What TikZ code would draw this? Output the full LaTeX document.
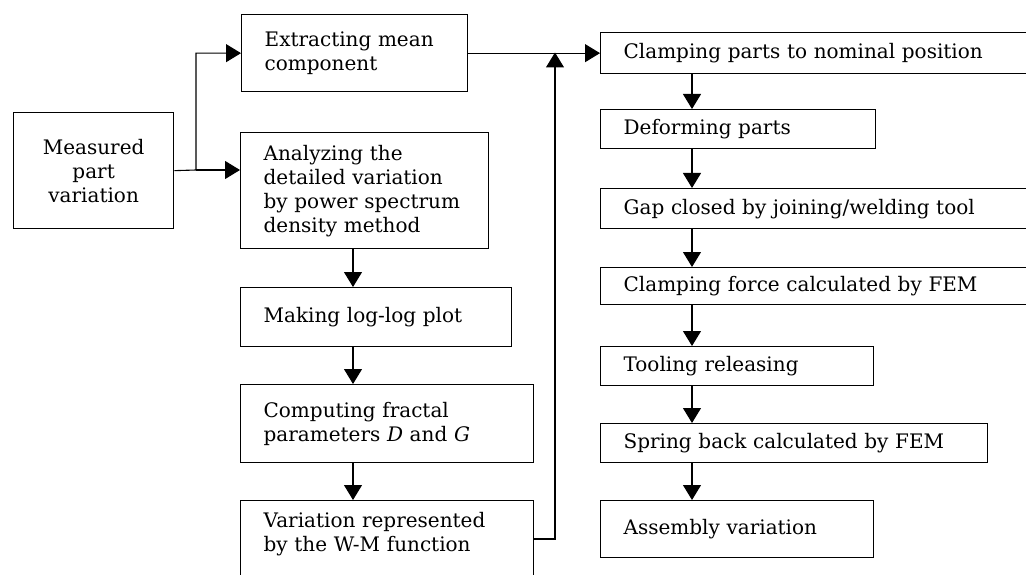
\documentclass[tikz,border=0pt]{standalone}
\usepackage{fontspec}
\setmainfont{DejaVu Serif}
\usepackage{tikz}
\usetikzlibrary{arrows.meta, positioning}

\begin{document}
\begin{tikzpicture}[x=1pt, y=-1pt,
    box/.style={draw, line width=1.3pt, anchor=north west, align=left,
        inner xsep=23pt, inner ysep=0pt,
        font=\fontsize{20pt}{24pt}\selectfont},
    flow/.style={-{Triangle[length=15pt, width=18pt]}, line width=1.1pt},
    ]
\useasboundingbox (0,0) rectangle (1026,575);
\clip (0,0) rectangle (1026,575);

% Fractal description of the measured part
\node[box, align=center, inner xsep=0pt, minimum width=160pt, minimum height=116pt, text width=160pt] (measured) at (13,112) {Measured\\part\\variation};
\node[box, minimum width=226pt, minimum height=77pt, text width=180pt] (extract) at (241,14) {Extracting mean\\component};
\node[box, minimum width=248pt, minimum height=116pt, text width=202pt] (analyze) at (240,132) {Analyzing the\\detailed variation\\by power spectrum\\density method};
\node[box, minimum width=271pt, minimum height=59pt, text width=225pt] (making) at (240,287) {Making log-log plot};
\node[box, minimum width=293pt, minimum height=78pt, text width=247pt] (computing) at (240,384) {Computing fractal\\parameters \textit{D} and \textit{G}};
\node[box, minimum width=293pt, minimum height=110pt, text width=247pt] (variation) at (240,500) {Variation represented\\by the W-M function\\\mbox{}\\\mbox{}};

% Assembly simulation
\node[box, minimum width=431pt, minimum height=41pt, text width=385pt] (clamp) at (600,32) {Clamping parts to nominal position};
\node[box, minimum width=275pt, minimum height=39pt, text width=229pt] (deform) at (600,109) {Deforming parts};
\node[box, minimum width=431pt, minimum height=40pt, text width=385pt] (gap) at (600,188) {Gap closed by joining/welding tool};
\node[box, minimum width=431pt, minimum height=37pt, text width=385pt] (force) at (600,267) {Clamping force calculated by FEM};
\node[box, minimum width=273pt, minimum height=39pt, text width=227pt] (tooling) at (600,346) {Tooling releasing};
\node[box, minimum width=387pt, minimum height=39pt, text width=341pt] (spring) at (600,423) {Spring back calculated by FEM};
\node[box, minimum width=273pt, minimum height=57pt, text width=227pt] (assembly) at (600,500) {Assembly variation};

% branching and merging
\coordinate (split) at (196,170);
\coordinate (merge) at (555,52.5);
\coordinate (wmout) at ([yshift=-39pt]variation.north east);
\draw[flow] (measured.east) -- (split) |- (extract.west);
\draw[flow] (split) -- (split -| analyze.west);
\draw[flow] (extract.east) -- (extract.east -| clamp.west);
\draw[flow] (wmout) -| (merge);

% left column
\draw[flow] ([xshift=113pt]analyze.south west) -- ([xshift=113pt]making.north west);
\draw[flow] ([xshift=113pt]making.south west) -- ([xshift=113pt]computing.north west);
\draw[flow] ([xshift=113pt]computing.south west) -- ([xshift=113pt]variation.north west);

% right column
\draw[flow] ([xshift=92pt]clamp.south west) -- ([xshift=92pt]deform.north west);
\draw[flow] ([xshift=92pt]deform.south west) -- ([xshift=92pt]gap.north west);
\draw[flow] ([xshift=92pt]gap.south west) -- ([xshift=92pt]force.north west);
\draw[flow] ([xshift=92pt]force.south west) -- ([xshift=92pt]tooling.north west);
\draw[flow] ([xshift=92pt]tooling.south west) -- ([xshift=92pt]spring.north west);
\draw[flow] ([xshift=92pt]spring.south west) -- ([xshift=92pt]assembly.north west);
\end{tikzpicture}
\end{document}
